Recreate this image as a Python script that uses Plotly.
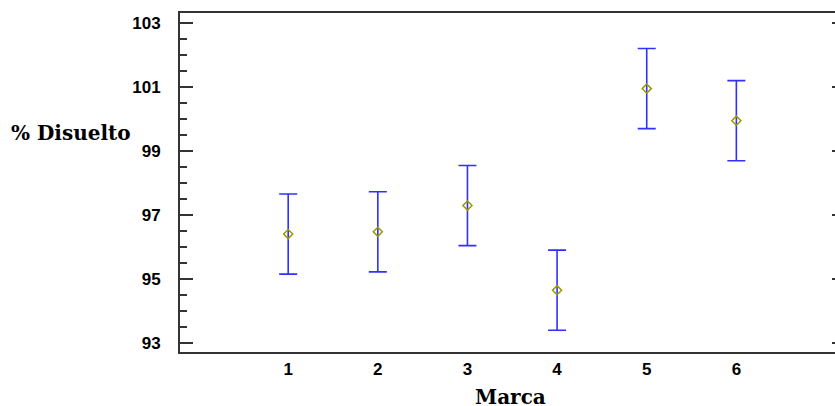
import plotly.graph_objects as go

marca = [1, 2, 3, 4, 5, 6]
medias = [96.40, 96.47, 97.29, 94.65, 100.94, 99.94]
semi_intervalo = [1.25, 1.25, 1.25, 1.25, 1.25, 1.25]
x_ticks = [1, 2, 3, 4, 5, 6]
y_ticks = [93, 95, 97, 99, 101, 103]

fig = go.Figure()
fig.add_trace(go.Scatter(
    x=marca, y=medias, mode="markers",
    marker=dict(symbol="diamond-open", size=7, color="#9a9a00", line=dict(width=1.5, color="#9a9a00")),
    error_y=dict(type="data", array=semi_intervalo, visible=True,
                 color="#3030ff", thickness=1.6, width=9),
    showlegend=False, hoverinfo="x+y",
))

axis_col = "#333333"
fig.update_layout(
    width=847, height=406,
    margin=dict(l=180, r=0, t=13, b=54),
    paper_bgcolor="white", plot_bgcolor="white",
    font=dict(family="Liberation Sans, Arial", size=17, color="black"),
    xaxis=dict(
        range=[-0.207, 7.212], tickvals=x_ticks, ticktext=[str(v) for v in x_ticks],
        ticks="", showgrid=False, zeroline=False,
        showline=True, linecolor=axis_col, linewidth=2, mirror=True,
        tickfont=dict(family="Liberation Sans, Arial", size=17, color="black", weight="bold"),
        ticklabelstandoff=1,
    ),
    yaxis=dict(
        range=[92.72, 103.3], tickvals=y_ticks, ticktext=[str(v) for v in y_ticks],
        ticks="inside", ticklen=13, tickwidth=1.5, tickcolor=axis_col,
        minor=dict(dtick=0.5, tick0=93, ticks="inside", ticklen=7, tickwidth=1.5, tickcolor=axis_col, showgrid=False),
        showgrid=False, zeroline=False,
        showline=True, linecolor=axis_col, linewidth=2, mirror="ticks",
        tickfont=dict(family="Liberation Sans, Arial", size=17, color="black", weight="bold"),
        ticklabelstandoff=14,
    ),
    annotations=[
        dict(text="% Disuelto", xref="paper", yref="paper", x=-0.071, y=0.646,
             xanchor="right", yanchor="middle", showarrow=False,
             font=dict(family="DejaVu Serif", size=20, color="black", weight="bold")),
        dict(text="Marca", xref="paper", yref="paper", x=0.4973, y=0, yshift=-31,
             xanchor="center", yanchor="top", showarrow=False,
             font=dict(family="DejaVu Serif", size=20, color="black", weight="bold")),
    ],
)

fig.write_html(
    "out.html",
    config={"displayModeBar": False},
    post_script=("document.body.style.margin='0';"
                 "document.body.style.overflow='hidden';"
                 "document.documentElement.style.overflow='hidden';"),
)
